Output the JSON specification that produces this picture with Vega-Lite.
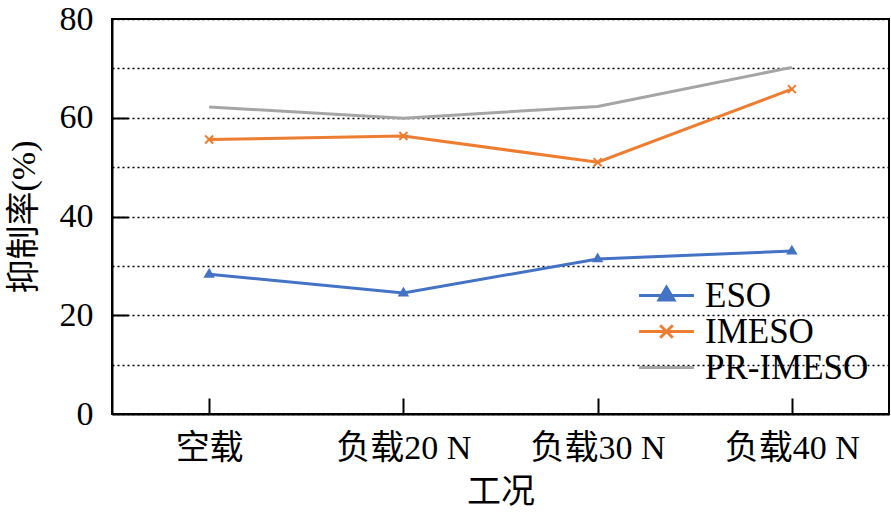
{
  "$schema": "https://vega.github.io/schema/vega-lite/v6.json",
  "width": 777,
  "height": 395,
  "autosize": {"type": "none"},
  "padding": {"left": 112, "top": 19, "right": 2, "bottom": 103},
  "background": "white",
  "config": {
    "view": {"stroke": "black", "strokeWidth": 2},
    "font": "Liberation Serif, Noto Sans CJK SC",
    "axis": {
      "labelFont": "Liberation Serif, Noto Sans CJK SC",
      "titleFont": "Liberation Serif, Noto Sans CJK SC",
      "labelFontSize": 34,
      "titleFontSize": 34,
      "titleFontWeight": "normal",
      "labelColor": "black",
      "titleColor": "black",
      "domainColor": "black",
      "domainWidth": 2,
      "tickColor": "black",
      "tickWidth": 2
    }
  },
  "data": {
    "values": [
      {"cond": "空载", "series": "ESO", "v": 28.3},
      {"cond": "负载20 N", "series": "ESO", "v": 24.5},
      {"cond": "负载30 N", "series": "ESO", "v": 31.4},
      {"cond": "负载40 N", "series": "ESO", "v": 33.0},
      {"cond": "空载", "series": "IMESO", "v": 55.6},
      {"cond": "负载20 N", "series": "IMESO", "v": 56.3},
      {"cond": "负载30 N", "series": "IMESO", "v": 51.0},
      {"cond": "负载40 N", "series": "IMESO", "v": 65.8},
      {"cond": "空载", "series": "PR-IMESO", "v": 62.2},
      {"cond": "负载20 N", "series": "PR-IMESO", "v": 59.9},
      {"cond": "负载30 N", "series": "PR-IMESO", "v": 62.3},
      {"cond": "负载40 N", "series": "PR-IMESO", "v": 70.2}
    ]
  },
  "resolve": {"axis": {"x": "independent", "y": "independent"}},
  "layer": [
    {
      "mark": {"type": "line", "strokeWidth": 3},
      "encoding": {
        "x": {
          "field": "cond",
          "type": "nominal",
          "sort": ["空载", "负载20 N", "负载30 N", "负载40 N"],
          "scale": {"type": "point", "padding": 0.5},
          "axis": {
            "orient": "bottom",
            "title": "工况",
            "labelAngle": 0,
            "ticks": false,
            "tickSize": 0,
            "labelPadding": 17,
            "titlePadding": 10,
            "grid": false
          }
        },
        "y": {
          "field": "v",
          "type": "quantitative",
          "scale": {"domain": [0, 80], "nice": false},
          "axis": {
            "orient": "left",
            "title": "抑制率(%)",
            "values": [0, 10, 20, 30, 40, 50, 60, 70, 80],
            "labelExpr": "datum.value % 20 === 0 ? datum.label : ''",
            "ticks": false,
            "tickSize": 0,
            "labelPadding": 19,
            "titlePadding": 18,
            "grid": true,
            "gridColor": "black",
            "gridDash": [2, 3],
            "gridWidth": 1.5,
            "gridOpacity": 1
          }
        },
        "color": {
          "field": "series",
          "type": "nominal",
          "scale": {"domain": ["ESO", "IMESO", "PR-IMESO"], "range": ["#4472C4", "#ED7D31", "#A5A5A5"]},
          "legend": {
            "title": null,
            "orient": "none",
            "legendX": 537,
            "legendY": 259,
            "padding": 0,
            "labelFont": "Liberation Serif",
            "labelFontSize": 35,
            "labelColor": "black",
            "labelOffset": 21,
            "labelLimit": 400,
            "symbolSize": 900,
            "symbolStrokeWidth": 3,
            "rowPadding": 0,
            "encode": {
              "symbols": {
                "update": {
                  "shape": {"signal": "datum.value === 'ESO' ? 'M-1.83,0L1.83,0M0,-0.55L0.5,0.3L-0.5,0.3Z' : datum.value === 'IMESO' ? 'M-1.83,0L1.83,0M-0.42,-0.42L0.42,0.42M-0.42,0.42L0.42,-0.42' : 'M-1.83,0L1.83,0'"},
                  "fill": {"signal": "scale('color', datum.value)"},
                  "stroke": {"signal": "scale('color', datum.value)"},
                  "strokeWidth": {"value": 3},
                  "opacity": {"value": 1}
                }
              }
            }
          }
        }
      }
    },
    {
      "transform": [{"filter": "datum.series !== 'PR-IMESO'"}],
      "mark": {"type": "point", "filled": true, "opacity": 1, "strokeWidth": 2},
      "encoding": {
        "x": {
          "field": "cond",
          "type": "nominal",
          "sort": ["空载", "负载20 N", "负载30 N", "负载40 N"],
          "axis": {
            "orient": "top",
            "offset": -395,
            "title": null,
            "labels": false,
            "domain": false,
            "grid": false,
            "ticks": true,
            "tickSize": 16,
            "tickColor": "black",
            "tickWidth": 2
          }
        },
        "y": {
          "field": "v",
          "type": "quantitative",
          "axis": {
            "orient": "right",
            "offset": -777,
            "values": [20, 40, 60],
            "title": null,
            "labels": false,
            "domain": false,
            "grid": false,
            "ticks": true,
            "tickSize": 16,
            "tickColor": "black",
            "tickWidth": 2
          }
        },
        "shape": {
          "field": "series",
          "type": "nominal",
          "scale": {"domain": ["ESO", "IMESO"], "range": ["M0,-1.1L1,0.6L-1,0.6Z", "M-1,-1L1,1M-1,1L1,-1"]},
          "legend": null
        },
        "fill": {
          "field": "series",
          "type": "nominal",
          "scale": {"domain": ["ESO", "IMESO"], "range": ["#4472C4", "#ED7D31"]},
          "legend": null
        },
        "stroke": {
          "field": "series",
          "type": "nominal",
          "scale": {"domain": ["ESO", "IMESO"], "range": ["#4472C4", "#ED7D31"]},
          "legend": null
        },
        "size": {"value": 64}
      }
    }
  ]
}
